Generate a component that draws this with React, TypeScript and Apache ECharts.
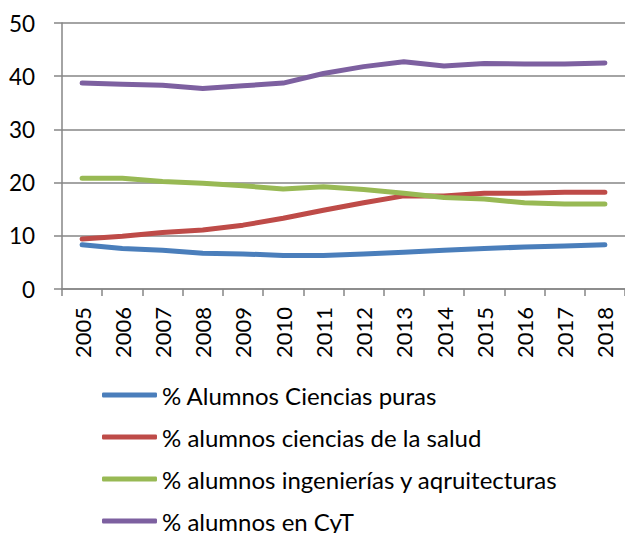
import React, { useEffect, useRef } from "react";
import * as echarts from "echarts";

const years = ["2005", "2006", "2007", "2008", "2009", "2010", "2011", "2012", "2013", "2014", "2015", "2016", "2017", "2018"];
const cienciasPuras = [8.3, 7.6, 7.3, 6.7, 6.6, 6.3, 6.3, 6.6, 6.9, 7.3, 7.6, 7.9, 8.1, 8.3];
const cienciasSalud = [9.4, 9.9, 10.6, 11.1, 12.0, 13.3, 14.8, 16.2, 17.5, 17.5, 18.0, 18.0, 18.2, 18.2];
const ingenierias = [20.8, 20.8, 20.2, 19.9, 19.4, 18.8, 19.2, 18.7, 18.0, 17.2, 16.9, 16.2, 16.0, 16.0];
const cyt = [38.7, 38.5, 38.3, 37.7, 38.2, 38.7, 40.5, 41.8, 42.7, 41.9, 42.4, 42.3, 42.3, 42.5];

const seriesNames = [
  "% Alumnos Ciencias puras",
  "% alumnos ciencias de la salud",
  "% alumnos ingenierías y aqruitecturas",
  "% alumnos en CyT",
];
const seriesData = [cienciasPuras, cienciasSalud, ingenierias, cyt];
const colors = ["#4A7EBB", "#BE4B48", "#98B954", "#7D60A0"];

const FONT = "Lato, 'Open Sans', sans-serif";
const CHART_H = 600;

export default function App() {
  const ref = useRef<HTMLDivElement>(null);
  useEffect(() => {
    if (!ref.current) return;
    const chart = echarts.init(ref.current, undefined, { renderer: "svg" });
    chart.setOption({
      animation: false,
      color: colors,
      grid: { left: 62, right: -6, top: 23, bottom: CHART_H - 289, containLabel: false },
      xAxis: {
        type: "category",
        data: years,
        boundaryGap: true,
        axisLine: { lineStyle: { color: "#868686", width: 1.5 } },
        axisTick: { show: true, length: 7, lineStyle: { color: "#868686", width: 1.5 } },
        axisLabel: {
          rotate: 90,
          interval: 0,
          margin: 18,
          color: "#000",
          fontSize: 22,
          fontFamily: FONT,
        },
      },
      yAxis: {
        type: "value",
        min: 0,
        max: 50,
        interval: 10,
        axisLine: { show: true, lineStyle: { color: "#868686", width: 1.5 } },
        axisTick: { show: true, length: 8, lineStyle: { color: "#868686", width: 1.5 } },
        splitLine: { show: true, lineStyle: { color: "#868686", width: 1.5 } },
        axisLabel: { color: "#000", fontSize: 22.5, fontFamily: FONT, margin: 27 },
      },
      legend: {
        orient: "vertical",
        left: 102,
        top: 383,
        padding: 0,
        itemWidth: 55,
        itemHeight: 5,
        itemGap: 18,
        icon: "roundRect",
        textStyle: { color: "#000", fontSize: 24, fontFamily: FONT, lineHeight: 22 },
        data: seriesNames,
      },
      series: seriesNames.map((name, i) => ({
        name,
        type: "line",
        data: seriesData[i],
        symbol: "none",
        lineStyle: { width: 5, color: colors[i], cap: "round", join: "round" },
        itemStyle: { color: colors[i] },
      })),
    });
    return () => chart.dispose();
  }, []);
  return (
    <div style={{ position: "fixed", left: 0, top: 0, width: 625, height: 533, overflow: "hidden", background: "#fff" }}>
      <div ref={ref} style={{ width: 625, height: CHART_H }} />
    </div>
  );
}
